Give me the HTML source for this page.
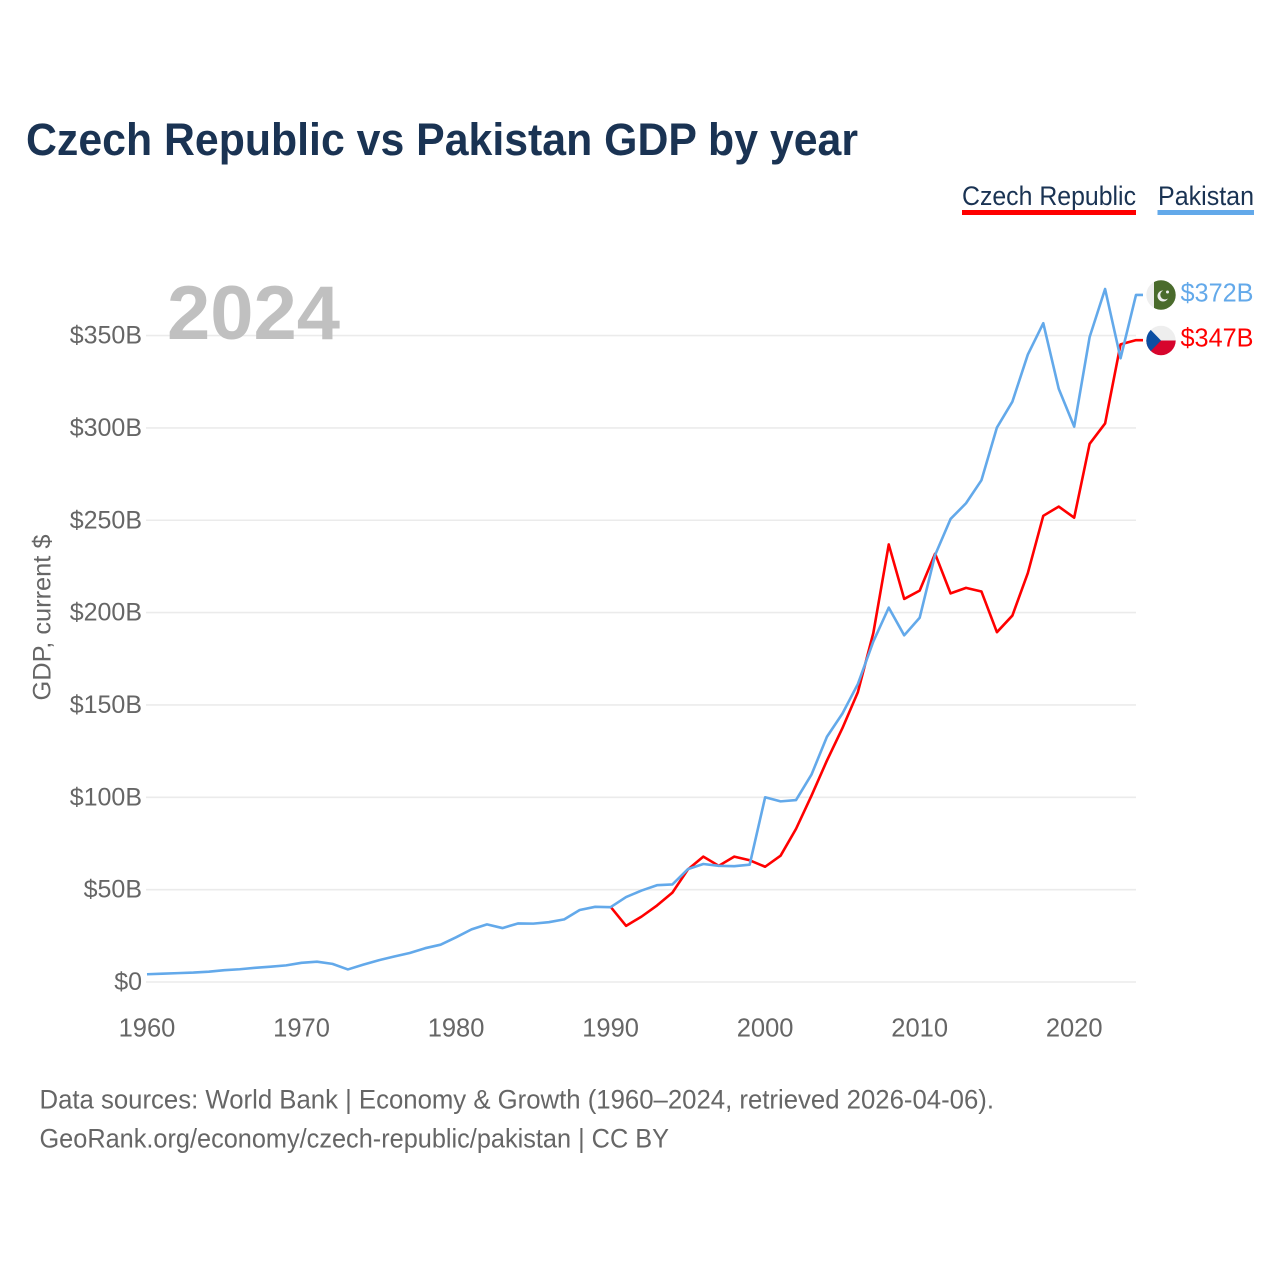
<!DOCTYPE html>
<html lang="en">
<head>
<meta charset="utf-8">
<title>Czech Republic vs Pakistan GDP by year</title>
<style>
html,body{margin:0;padding:0;background:#fff;width:1280px;height:1280px;overflow:hidden}
svg{display:block}
text{font-family:"Liberation Sans",sans-serif}
</style>
</head>
<body>
<svg id="chart" width="1280" height="1280" viewBox="0 0 1280 1280" xmlns="http://www.w3.org/2000/svg">
<defs>
<clipPath id="clip-pk"><circle cx="1161" cy="295" r="14.7"/></clipPath>
<clipPath id="clip-cz"><circle cx="1161" cy="340.5" r="14.7"/></clipPath>
</defs>
<text x="26" y="155" font-size="45" font-weight="700" fill="#1a3353" textLength="832" lengthAdjust="spacingAndGlyphs">Czech Republic vs Pakistan GDP by year</text>
<g>
<text x="962" y="205" font-size="27" fill="#1a3353" textLength="174" lengthAdjust="spacingAndGlyphs">Czech Republic</text>
<rect x="962" y="210" width="174" height="5" fill="#ff0000"/>
</g>
<g>
<text x="1158" y="205" font-size="27" fill="#1a3353" textLength="96" lengthAdjust="spacingAndGlyphs">Pakistan</text>
<rect x="1157.500" y="210" width="96.500" height="5" fill="#63a9ea"/>
</g>
<g id="grid"></g>
<text x="167" y="339" font-size="76" font-weight="700" fill="#c0c0c0" textLength="173" lengthAdjust="spacingAndGlyphs">2024</text>
<g id="yticks"></g>
<g id="xticks"></g>
<text transform="translate(50.500 617.500) rotate(-90)" text-anchor="middle" font-size="25" fill="#666666" textLength="166" lengthAdjust="spacingAndGlyphs">GDP, current $</text>
<g id="series"></g>
<g clip-path="url(#clip-pk)">
<rect x="1146" y="280" width="30" height="30" fill="#eeeeee"/>
<rect x="1154" y="280" width="22" height="30" fill="#4a6b2c"/>
<circle cx="1163" cy="296" r="5.500" fill="#eeeeee"/>
<circle cx="1165" cy="294.800" r="4.700" fill="#4a6b2c"/>
<circle cx="1167.500" cy="292" r="1.500" fill="#eeeeee"/>
</g>
<g clip-path="url(#clip-cz)">
<rect x="1146" y="325" width="30" height="16" fill="#eeeeee"/>
<rect x="1146" y="340.500" width="30" height="16" fill="#d7052d"/>
<polygon points="1146,325 1161,340.500 1146,356" fill="#0b4ea2"/>
</g>
<text id="label-pk" x="1180.500" y="301.500" font-size="25.500" fill="#63a9ea" textLength="73" lengthAdjust="spacingAndGlyphs">$372B</text>
<text id="label-cz" x="1180.500" y="346.500" font-size="25.500" fill="#ff0000" textLength="73" lengthAdjust="spacingAndGlyphs">$347B</text>
<text x="39.500" y="1108.500" font-size="26.500" fill="#666666" textLength="954.500" lengthAdjust="spacingAndGlyphs">Data sources: World Bank | Economy &amp; Growth (1960–2024, retrieved 2026-04-06).</text>
<text x="39.500" y="1147.500" font-size="26.500" fill="#666666" textLength="629.500" lengthAdjust="spacingAndGlyphs">GeoRank.org/economy/czech-republic/pakistan | CC BY</text>
</svg>
<script>
const yTicks = [0, 50, 100, 150, 200, 250, 300, 350];
const xTicks = [1960, 1970, 1980, 1990, 2000, 2010, 2020];
const pakistanStartYear = 1960;
const czechStartYear = 1990;
const pakistanGdp = [4.2,4.5,4.8,5.1,5.6,6.4,6.9,7.7,8.3,9.0,10.4,11.0,9.8,6.8,9.4,11.8,13.8,15.7,18.3,20.2,24.2,28.5,31.2,29.2,31.7,31.6,32.4,33.9,39.0,40.7,40.5,46.0,49.5,52.4,52.8,61.1,63.9,62.9,62.7,63.5,100.0,97.8,98.5,112.3,132.8,145.3,161.3,184.3,202.7,187.7,197.2,231.2,250.7,259.2,271.7,300.2,314.2,339.7,356.7,321.2,300.7,349.2,375.2,337.7,372.0];
const czechGdp = [40.7,30.4,35.4,41.4,48.4,60.9,67.9,62.9,67.9,65.9,62.4,68.4,82.9,100.9,119.9,137.4,156.9,188.9,236.9,207.4,211.9,231.9,210.4,213.4,211.4,189.4,198.4,221.4,252.4,257.4,251.4,291.4,302.4,345.2,347.5];

const NS = 'http://www.w3.org/2000/svg';
const X0 = 147, X1 = 1136, YEAR0 = 1960, YEAR1 = 2024;
const Y0 = 982, PX_PER_B = 1.847;
function xScale(year) { return X0 + (year - YEAR0) * (X1 - X0) / (YEAR1 - YEAR0); }
function yScale(v) { return Y0 - v * PX_PER_B; }

const grid = document.getElementById('grid');
const yG = document.getElementById('yticks');
const xG = document.getElementById('xticks');
const seriesG = document.getElementById('series');

yTicks.forEach(function (t) {
  const line = document.createElementNS(NS, 'line');
  
  
  line.setAttribute('x1', X0 - 1);
  line.setAttribute('x2', X1);
  line.setAttribute('y1', yScale(t));
  line.setAttribute('y2', yScale(t));
  line.setAttribute('stroke', '#ebebeb');
  line.setAttribute('stroke-width', '1.6');
  grid.appendChild(line);

  const label = document.createElementNS(NS, 'text');
  
  
  label.setAttribute('x', 142);
  label.setAttribute('y', yScale(t) + 8);
  label.setAttribute('text-anchor', 'end');
  label.setAttribute('font-size', '25');
  label.setAttribute('fill', '#666666');
  label.textContent = '$' + t + (t === 0 ? '' : 'B');
  yG.appendChild(label);
});

xTicks.forEach(function (t) {
  const label = document.createElementNS(NS, 'text');
  
  
  label.setAttribute('x', xScale(t));
  label.setAttribute('y', 1036.5);
  label.setAttribute('text-anchor', 'middle');
  label.setAttribute('font-size', '25.5');
  label.setAttribute('fill', '#666666');
  label.textContent = t;
  xG.appendChild(label);
});

function drawSeries(values, startYear, color, name) {
  const pts = values.map(function (v, i) {
    return xScale(startYear + i).toFixed(2) + ',' + yScale(v).toFixed(2);
  });
  const last = values[values.length - 1];
  pts.push((X1 + 7) + ',' + yScale(last).toFixed(2));
  const line = document.createElementNS(NS, 'polyline');
  
  
  line.setAttribute('points', pts.join(' '));
  line.setAttribute('fill', 'none');
  line.setAttribute('stroke', color);
  line.setAttribute('stroke-width', '2.6');
  line.setAttribute('stroke-linejoin', 'round');
  seriesG.appendChild(line);
}
drawSeries(czechGdp, czechStartYear, '#ff0000', 'line-czech-republic');
drawSeries(pakistanGdp, pakistanStartYear, '#63a9ea', 'line-pakistan');
</script>
</body>
</html>
